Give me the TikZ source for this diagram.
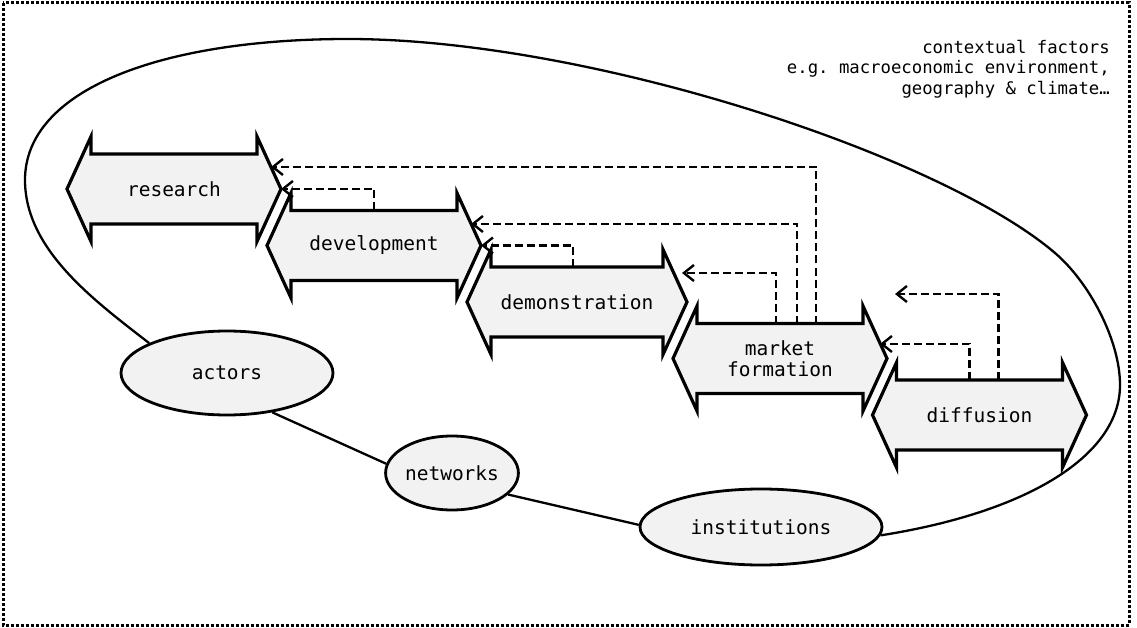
\documentclass[tikz,border=0pt]{standalone}
\usepackage{fontspec}
\setmonofont{DejaVu Sans Mono}
\usetikzlibrary{arrows.meta,shapes.geometric,backgrounds}
\definecolor{stagefill}{RGB}{242,242,242}

% a stage of the innovation chain: a double-headed block arrow with its label
\newcommand\stagearrow[5]{%
  \begin{scope}[shift={(#2,#3)}]
    \path[stageshape] (-#4,0) -- ++(24,-52.5) -- ++(0,17.5) -- (#4-24,-35)
      -- ++(0,-17.5) -- (#4,0) -- ++(-24,52.5) -- ++(0,-17.5) -- (-#4+24,35)
      -- ++(0,17.5) -- cycle;
    \node[stagelabel] (#1) at (0,0) {#5};
    \coordinate (#1-top) at (0,-35);
    \coordinate (#1-tip) at (#4,0);
  \end{scope}}

\begin{document}
\begin{tikzpicture}[x=1pt,y=-1pt,
  stageshape/.style={draw=black, fill=stagefill, line width=3.2pt, line join=miter},
  stagelabel/.style={font=\ttfamily\fontsize{19.5}{21}\selectfont, align=center, inner sep=0pt},
  element/.style={ellipse, draw=black, fill=stagefill, line width=2.8pt,
    font=\ttfamily\fontsize{19.5}{21}\selectfont, inner sep=0pt},
  loopline/.style={draw=black, line width=2.3pt},
  feedback/.style={draw=black, line width=2.4pt, dash pattern=on 8pt off 4pt,
    -{Straight Barb[length=10pt,width=16pt]}},
  frame/.style={draw=black, line width=3pt, dash pattern=on 3pt off 2pt}]
\useasboundingbox (0,0) rectangle (1137,628);
\draw[frame] (3,3) rectangle (1129,625);

% system elements
\node[element, minimum width=212pt, minimum height=84pt] (actors) at (227,373) {actors};
\node[element, minimum width=130pt, minimum height=74pt] (networks) at (452,473) {networks};
\node[element, minimum width=242pt, minimum height=76pt] (institutions) at (761,527) {institutions};

% the system boundary running through the elements
\begin{scope}[on background layer]
\draw[loopline] (institutions.-4) .. controls (1029,512) and (1120,455) .. (1120,385)
  .. controls (1120,340) and (1089,282) .. (1055,253)
  .. controls (941,155.5) and (590,39) .. (348,39)
  .. controls (160,39) and (25,90) .. (25,180)
  .. controls (25,250) and (95,301) .. (actors.159);
\draw[loopline] (actors.-41) -- (networks.172);
\draw[loopline] (networks.-21.5) -- (institutions.179);
\end{scope}

% stages
\stagearrow{research}{174}{189}{107}{research}
\stagearrow{development}{374}{245.5}{107}{development}
\stagearrow{demonstration}{577}{302}{110}{demonstration}
\stagearrow{market}{780}{358.5}{107}{market\\formation}
\stagearrow{diffusion}{979.5}{415}{107}{diffusion}

% feedback loops
\draw[feedback] (development-top) |- (research-tip);
\draw[feedback] ([xshift=-4pt]demonstration-top) |- (development-tip);
\draw[feedback] ([xshift=-4pt]market-top) |- ([shift={(-5,-29)}]demonstration-tip);
\draw[feedback] ([xshift=17pt]market-top) |- ([shift={(-10,-21.5)}]development-tip);
\draw[feedback] ([xshift=36pt]market-top) |- ([shift={(-10,-22)}]research-tip);
\draw[feedback] ([xshift=-10pt]diffusion-top) |- ([shift={(-7,-14.5)}]market-tip);
\coordinate (open-end) at ([shift={(8,-64.5)}]market-tip);
\draw[feedback] ([xshift=19pt]diffusion-top) |- (open-end);

% context
\node[anchor=north east, align=right, inner sep=0pt,
  font=\ttfamily\fontsize{17.3}{20.5}\selectfont] (context) at (1110,40)
  {contextual factors\\e.g. macroeconomic environment,\\geography \& climate…};
\end{tikzpicture}
\end{document}
